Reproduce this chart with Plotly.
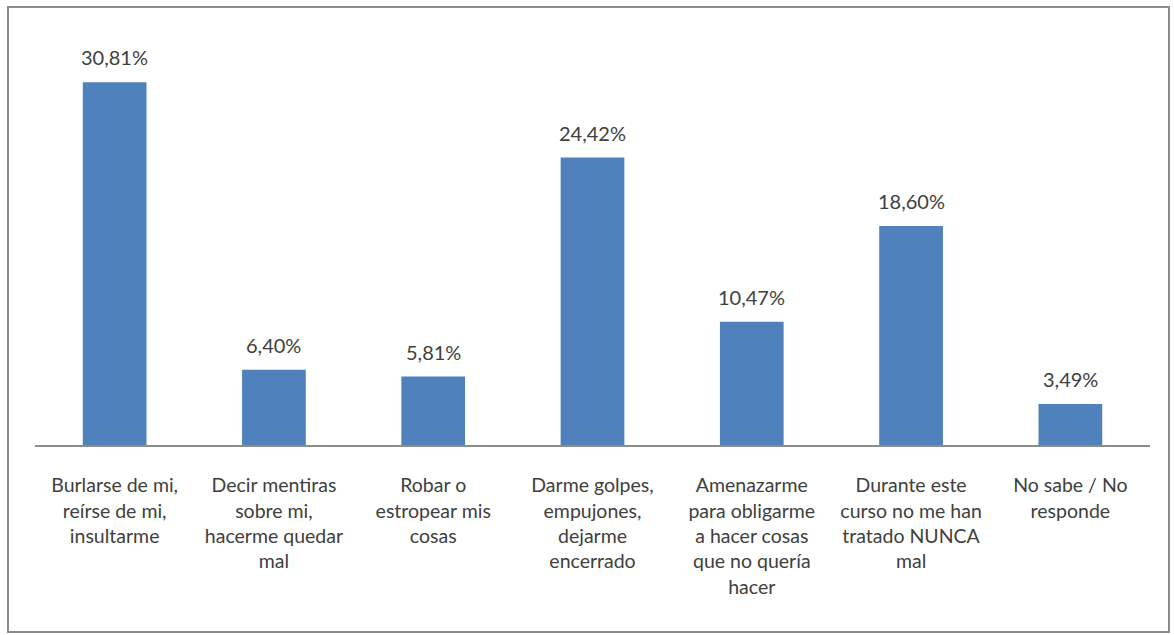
import plotly.graph_objects as go

categories = [
    "Burlarse de mi,<br>reírse de mi,<br>insultarme",
    "Decir mentiras<br>sobre mi,<br>hacerme quedar<br>mal",
    "Robar o<br>estropear mis<br>cosas",
    "Darme golpes,<br>empujones,<br>dejarme<br>encerrado",
    "Amenazarme<br>para obligarme<br>a hacer cosas<br>que no quería<br>hacer",
    "Durante este<br>curso no me han<br>tratado NUNCA<br>mal",
    "No sabe / No<br>responde",
]
values = [30.81, 6.40, 5.81, 24.42, 10.47, 18.60, 3.49]

W, H = 1174, 635
ml, mr, mt, mb = 35, 24, 33, 190

fig = go.Figure()
fig.add_trace(go.Bar(
    x=categories, y=values,
    marker=dict(color="#4F81BD", line=dict(width=0)),
    width=0.4,
    hoverinfo="skip",
))

# value labels above bars
for c, v in zip(categories, values):
    fig.add_annotation(
        x=c, y=v, text=f"{v:.2f}%".replace(".", ","),
        showarrow=False, yanchor="bottom", yshift=11,
        font=dict(family="Lato", size=20, color="#404040"),
    )

# outer chart frame
pw, ph = W - ml - mr, H - mt - mb
fig.add_shape(
    type="rect", xref="paper", yref="paper",
    x0=(8 - ml) / pw, x1=(1169 - ml) / pw,
    y0=(H - mb - 632) / ph, y1=(H - mb - 7) / ph,
    line=dict(color="#8C8C8C", width=2), fillcolor="rgba(0,0,0,0)",
    layer="below",
)

fig.update_layout(
    width=W, height=H,
    margin=dict(l=ml, r=mr, t=mt, b=mb),
    paper_bgcolor="white", plot_bgcolor="white",
    showlegend=False,
    xaxis=dict(
        showline=True, linecolor="#8C8C8C", linewidth=1.5,
        ticks="", showgrid=False, tickangle=0,
        ticklabelstandoff=22,
        tickfont=dict(family="Lato", size=19.5, color="#404040"),
        fixedrange=True,
    ),
    yaxis=dict(
        range=[0, 35], visible=False, showgrid=False, zeroline=False,
        fixedrange=True,
    ),
)

fig.write_html("out.html", config={"displayModeBar": False},
               post_script="document.body.style.margin='0';")
